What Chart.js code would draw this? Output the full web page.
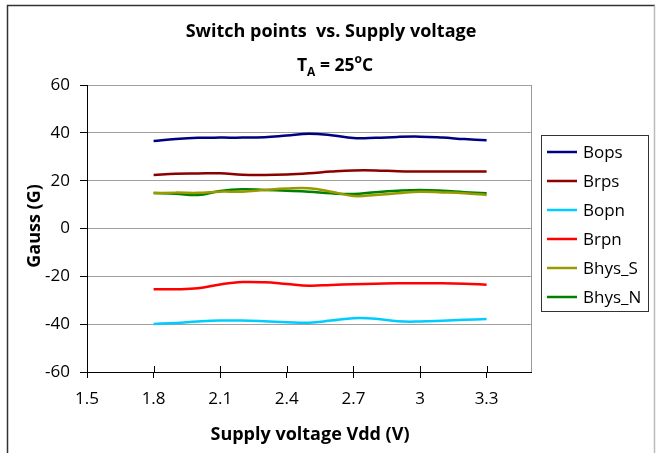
<!DOCTYPE html>
<html><head><meta charset="utf-8">
<script src="https://cdn.jsdelivr.net/npm/chart.js@4/dist/chart.umd.min.js"></script>
<style>html,body{margin:0;padding:0;background:#fff}#wrap{width:656px;height:453px;position:relative}</style>
</head><body><div id="wrap"><canvas id="c" width="656" height="453"></canvas></div>
<script>
const voltages = [1.8,1.9,2.0,2.1,2.2,2.3,2.4,2.5,2.6,2.7,2.8,2.9,3.0,3.1,3.2,3.3];
const bops   = [36.6,37.4,37.9,38.0,38.0,38.2,38.9,39.6,39.0,37.8,37.9,38.3,38.4,38.0,37.4,36.9];
const brps   = [22.4,22.9,23.0,23.1,22.5,22.4,22.6,23.1,23.8,24.3,24.3,23.9,23.8,23.8,23.8,23.8];
const bopn   = [-39.9,-39.5,-38.9,-38.5,-38.5,-38.8,-39.2,-39.4,-38.5,-37.5,-37.7,-38.8,-38.9,-38.6,-38.2,-37.8];
const brpn   = [-25.4,-25.4,-25.0,-23.4,-22.4,-22.5,-23.2,-23.9,-23.6,-23.3,-23.1,-22.9,-22.9,-22.9,-23.1,-23.5];
const bhysS  = [14.8,15.0,14.9,15.4,15.4,16.1,16.7,16.8,15.4,13.6,14.0,14.7,15.4,15.1,14.7,14.0];
const bhysN  = [14.8,14.5,14.0,15.7,16.4,16.1,15.8,15.4,14.7,14.4,15.2,15.8,16.1,15.8,15.2,14.7];
const seriesNames = ['Bops','Brps','Bopn','Brpn','Bhys_S','Bhys_N'];
const seriesColors = ['#000080','#8B0000','#00CCFF','#FF0000','#999900','#008000'];
const xTicks = [1.5,1.8,2.1,2.4,2.7,3.0,3.3];
const yTicks = [-60,-40,-20,0,20,40,60];
const titleLine1 = 'Switch points  vs. Supply voltage';
const xTitle = 'Supply voltage Vdd (V)';
const yTitle = 'Gauss (G)';

const FONT = '"Open Sans", Lato, sans-serif';
const allSeries = [bops,brps,bopn,brpn,bhysS,bhysN];
const datasets = allSeries.map((arr,i)=>({
  label: seriesNames[i],
  data: voltages.map((v,j)=>({x:v,y:arr[j]})),
  borderColor: seriesColors[i],
  backgroundColor: seriesColors[i],
  borderWidth: 2.5,
  pointRadius: 0,
  tension: 0.4,
  fill: false
}));

const deco = {
  id:'deco',
  afterDraw(chart){
    const ctx = chart.ctx, ca = chart.chartArea, xs = chart.scales.x;
    ctx.save();
    ctx.strokeStyle='#000'; ctx.lineWidth=1;
    xTicks.forEach(v=>{
      const px = Math.round(xs.getPixelForValue(v))+0.5;
      ctx.beginPath(); ctx.moveTo(px, ca.bottom); ctx.lineTo(px, ca.bottom-6); ctx.stroke();
    });
    ctx.strokeStyle='#999';
    ctx.beginPath(); ctx.moveTo(Math.round(ca.right)+0.5, ca.top); ctx.lineTo(Math.round(ca.right)+0.5, ca.bottom); ctx.stroke();
    ctx.strokeStyle='#333'; ctx.lineWidth=1.5;
    ctx.beginPath(); ctx.moveTo(7.5,453); ctx.lineTo(7.5,5.5); ctx.lineTo(655,5.5); ctx.stroke();
    ctx.strokeStyle='#bbb'; ctx.lineWidth=1.5;
    ctx.beginPath(); ctx.moveTo(654.5,5.5); ctx.lineTo(654.5,453); ctx.stroke();
    ctx.fillStyle='#000';
    ctx.textBaseline='alphabetic';
    ctx.font='bold 18px '+FONT;
    ctx.textAlign='center';
    ctx.fillText(titleLine1, 331, 37);
    const big='bold 17.5px '+FONT, small='bold 12px '+FONT;
    const parts=[['T',big,0],['A',small,5],[' = 25',big,0],['o',small,-8],['C',big,0]];
    let w=0; parts.forEach(p=>{ctx.font=p[1]; w+=ctx.measureText(p[0]).width;});
    let x=335-w/2; ctx.textAlign='left';
    parts.forEach(p=>{ctx.font=p[1]; ctx.fillText(p[0],x,71+p[2]); x+=ctx.measureText(p[0]).width;});
    ctx.font='bold 18px '+FONT; ctx.textAlign='center';
    ctx.fillText(xTitle, 310, 440);
    ctx.save(); ctx.translate(40,226); ctx.rotate(-Math.PI/2); ctx.fillText(yTitle,0,0); ctx.restore();
    ctx.fillStyle='#fff'; ctx.fillRect(541.5,135.5,107,176);
    ctx.strokeStyle='#333'; ctx.lineWidth=1; ctx.strokeRect(541.5,135.5,107,176);
    ctx.font='17px '+FONT; ctx.textAlign='left'; ctx.textBaseline='middle';
    seriesNames.forEach((n,i)=>{
      const yy=152+i*29;
      ctx.strokeStyle=seriesColors[i]; ctx.lineWidth=2.5;
      ctx.beginPath(); ctx.moveTo(547,yy); ctx.lineTo(577,yy); ctx.stroke();
      ctx.fillStyle='#000'; ctx.fillText(n,583,yy+1);
    });
    ctx.restore();
  }
};

new Chart(document.getElementById('c'),{
  type:'line',
  data:{datasets},
  options:{
    responsive:false, animation:false, devicePixelRatio:1,
    layout:{padding:{top:85,right:125,left:0,bottom:0}},
    plugins:{legend:{display:false},title:{display:false},tooltip:{enabled:false}},
    scales:{
      x:{type:'linear',min:1.5,max:3.5,
        afterBuildTicks:s=>{s.ticks=xTicks.map(v=>({value:v}));},
        afterFit:s=>{s.height=81;},
        ticks:{autoSkip:false,maxRotation:0,color:'#000',font:{family:FONT,size:17},padding:11,
          callback:v=>String(+(+v).toFixed(1))},
        grid:{drawOnChartArea:false,drawTicks:true,tickLength:6,tickColor:'#000'},
        border:{color:'#000',width:1}
      },
      y:{min:-60,max:60,
        afterBuildTicks:s=>{s.ticks=yTicks.map(v=>({value:v}));},
        afterFit:s=>{s.width=87;},
        ticks:{color:'#000',font:{family:FONT,size:17},padding:10},
        grid:{color:'#a0a0a0',tickColor:'#000',tickLength:7,lineWidth:1},
        border:{color:'#000',width:1}
      }
    }
  },
  plugins:[deco]
});
</script></body></html>
